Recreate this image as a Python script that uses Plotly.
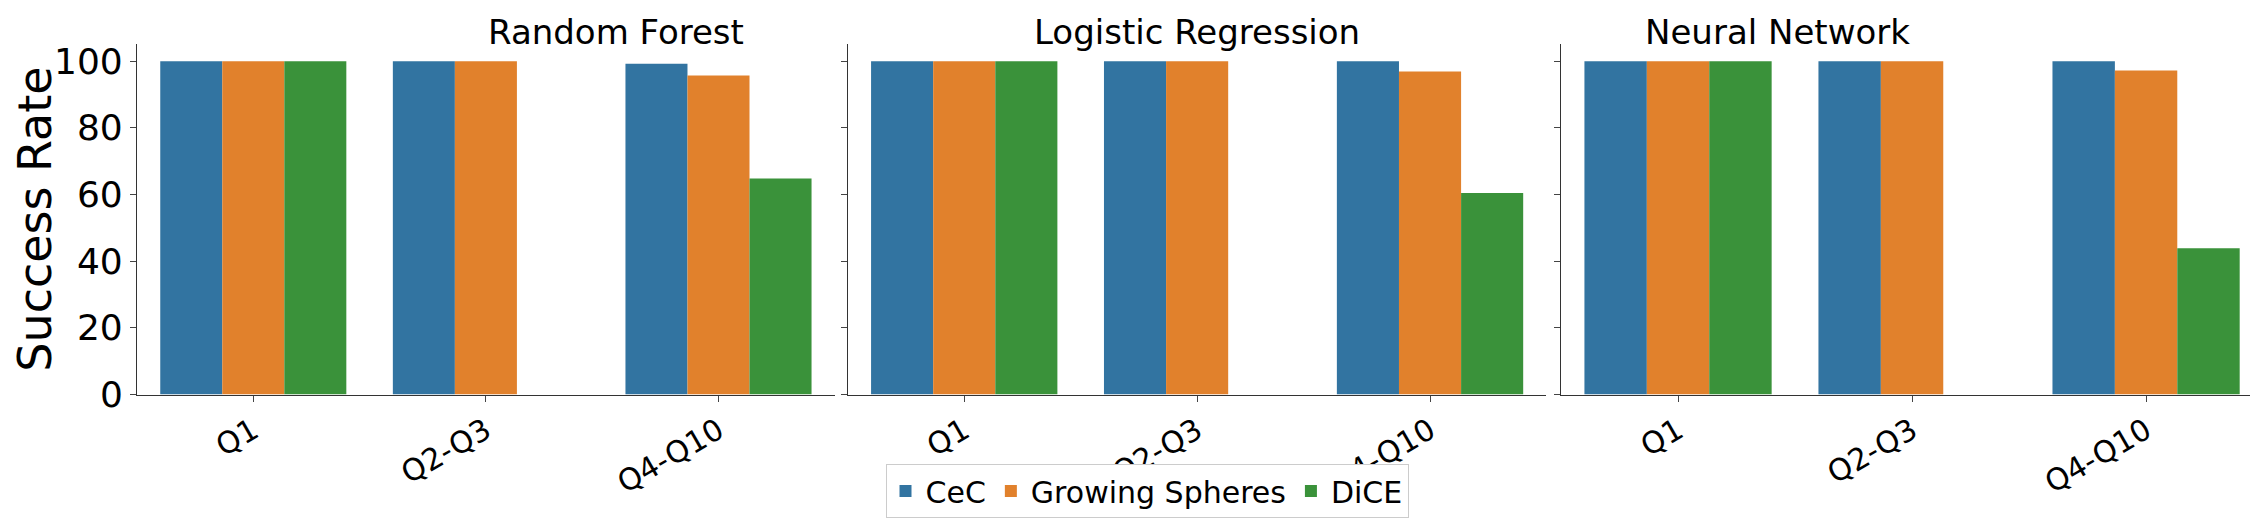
import plotly.graph_objects as go

categories = ["Q1", "Q2-Q3", "Q4-Q10"]
models = ["Random Forest", "Logistic Regression", "Neural Network"]
methods = ["CeC", "Growing Spheres", "DiCE"]
colors = ["#3274a1", "#e1812c", "#3a923a"]
values = {
    "Random Forest": {"CeC": [100, 100, 99.2], "Growing Spheres": [100, 100, 95.7], "DiCE": [100, None, 64.8]},
    "Logistic Regression": {"CeC": [100, 100, 100], "Growing Spheres": [100, 100, 96.9], "DiCE": [100, None, 60.5]},
    "Neural Network": {"CeC": [100, 100, 100], "Growing Spheres": [100, 100, 97.2], "DiCE": [100, None, 43.9]},
}

domains = [[0.0487, 0.3605], [0.3663, 0.6785], [0.685, 0.9987]]
fig = go.Figure()
font = "DejaVu Sans"
for i, m in enumerate(models):
    sfx = "" if i == 0 else str(i + 1)
    for j, meth in enumerate(methods):
        fig.add_trace(go.Bar(x=categories, y=values[m][meth], name=meth, marker_color=colors[j],
                             marker_line_width=0, showlegend=(i == 0), legendgroup=meth,
                             xaxis="x" + sfx, yaxis="y" + sfx, offsetgroup=str(j)))
    fig.layout["xaxis" + sfx] = dict(domain=domains[i], anchor="y" + sfx, showline=True, linecolor="#333",
                                     ticks="outside", ticklen=6, tickangle=-30, tickfont=dict(size=30, color="black"),
                                     range=[-0.5, 2.5])
    fig.layout["yaxis" + sfx] = dict(domain=[0.243, 0.934], anchor="x" + sfx, range=[0, 105.3], showline=True,
                                     linecolor="#333", ticks="outside", ticklen=6, showgrid=False, zeroline=False,
                                     tickvals=[0, 20, 40, 60, 80, 100], showticklabels=(i == 0),
                                     tickfont=dict(size=36, color="black"))
    fig.add_annotation(text=m, x=sum(domains[i]) / 2, y=1.0, xref="paper", yref="paper", showarrow=False,
                       yanchor="top", font=dict(size=34, color="black"))
fig.layout.yaxis.title = dict(text="Success Rate", font=dict(size=46, color="black"), standoff=14)
fig.update_layout(width=2258, height=531, margin=dict(l=0, r=0, t=0, b=0), plot_bgcolor="white",
                  paper_bgcolor="white", barmode="group", bargap=0.2, bargroupgap=0,
                  font=dict(family=font, color="black"),
                  legend=dict(orientation="h", x=0.5, xanchor="center", y=0.0, yanchor="bottom",
                              bordercolor="#ccc", borderwidth=1, font=dict(size=30)))
fig.write_html("out.html")
